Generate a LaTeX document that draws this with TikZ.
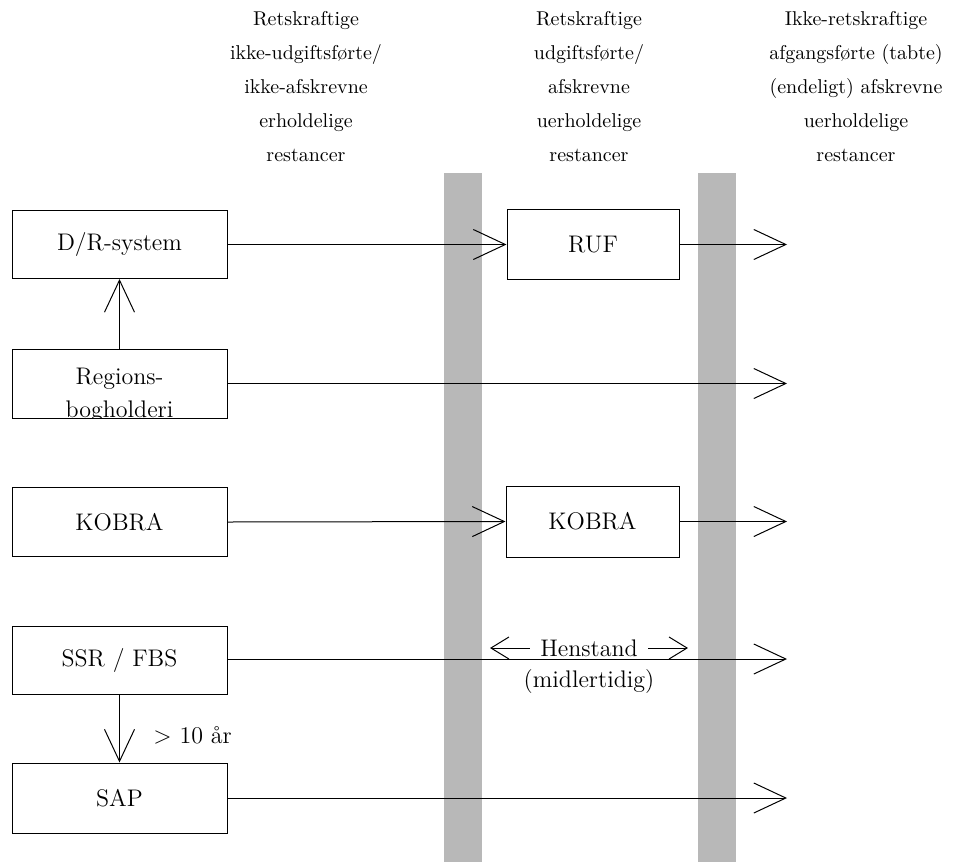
\documentclass[tikz,border=0pt]{standalone}
\usetikzlibrary{arrows.meta}
\begin{document}
\begin{tikzpicture}[x=0.5pt,y=-0.5pt,
  box/.style={draw, line width=0.5pt, minimum width=107.5pt, minimum height=34pt, inner sep=0pt, font=\fontsize{12}{14}\selectfont},
  lbl/.style={inner sep=0pt, font=\fontsize{12}{14}\selectfont},
  arr/.style={line width=0.5pt, -{Straight Barb[length=16pt,width=15pt,line width=0.5pt]}},
  sarr/.style={line width=0.5pt, -{Straight Barb[length=9pt,width=11pt,line width=0.5pt]}},
  hdr/.style={align=center, font=\fontsize{10}{17}\selectfont, anchor=north, inner sep=0pt},
  band/.style={fill=black!28, draw=none}]
\useasboundingbox (0,0) rectangle (978,862);
% grey bands
\fill[band] (444,173) rectangle (482,862);
\fill[band] (698,173) rectangle (736,862);
% headers
\node[hdr] (h1) at (306,11) {Retskraftige\\ikke-udgiftsførte/\\ikke-afskrevne\\erholdelige\\restancer};
\node[hdr] (h2) at (589,11) {Retskraftige\\udgiftsførte/\\afskrevne\\uerholdelige\\restancer};
\node[hdr] (h3) at (856,11) {Ikke-retskraftige\\afgangsførte (tabte)\\(endeligt) afskrevne\\uerholdelige\\restancer};
% left boxes
\node[box] (dr) at (119.5,244.5) {D/R-system};
\node[box, minimum height=34.5pt] (reg) at (119.5,383.5) {};
\begin{scope}
\clip (reg.south west) rectangle (reg.north east);
\node[lbl, anchor=base] (reg1) at (119.5,384) {Regions-};
\node[lbl, anchor=base] (reg2) at (119.5,417) {bogholderi};
\end{scope}
\node[box, minimum height=34.5pt] (kobl) at (119.5,522) {KOBRA};
\node[box] (ssr) at (119.5,660) {SSR / FBS};
\node[box, minimum height=35pt] (sap) at (119.5,798) {SAP};
% middle boxes
\node[box, minimum width=86pt, minimum height=35pt] (ruf) at (593,244.5) {RUF};
\node[box, minimum width=86.5pt, minimum height=35.5pt] (kobm) at (592.5,521.5) {KOBRA};
% tip column
\coordinate (tx) at (787,0);
% connectors
\draw[arr] (dr.east) -- (ruf.west);
\draw[arr] (ruf.east) -- (ruf.east -| tx);
\draw[arr] (reg.east) -- (reg.east -| tx);
\draw[arr] (kobl.east) -- (kobm.west);
\draw[arr] (kobm.east) -- (kobm.east -| tx);
\draw[arr] ([yshift=0.5pt]ssr.east) -- ([yshift=0.5pt]ssr.east -| tx);
\draw[arr] (sap.east) -- (sap.east -| tx);
\draw[arr] (reg.north) -- (dr.south);
\draw[arr] (ssr.south) -- (sap.north);
% Henstand
\node[lbl, inner xsep=5pt] (hen) at (589,648) {Henstand};
\coordinate (hl) at (490,648);
\coordinate (hr) at (688,648);
\draw[sarr] (hen.west) -- (hl);
\draw[sarr] (hen.east) -- (hr);
\node[lbl] (mid) at (589,681) {(midlertidig)};
\node[lbl, anchor=base west] (ten) at (153,743) {> 10 år};
\end{tikzpicture}
\end{document}
